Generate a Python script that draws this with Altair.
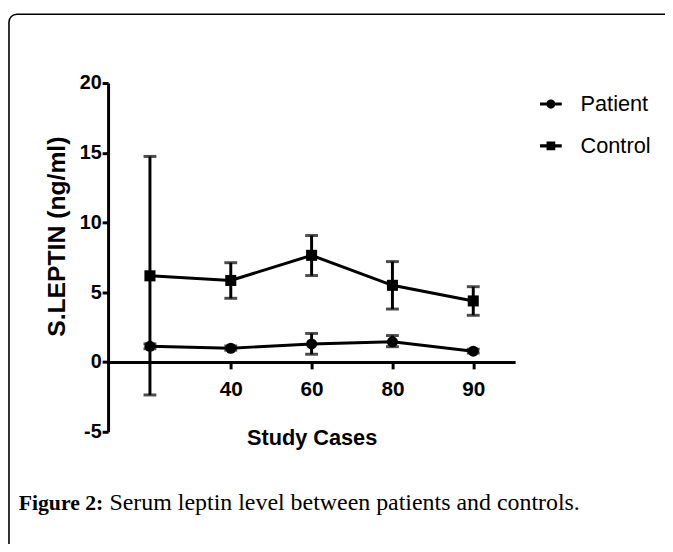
import altair as alt
import pandas as pd

# ---- data ----
x_labels = ["", "40", "60", "80", "90"]
positions = [1, 2, 3, 4, 5]
series_names = ["Patient", "Control"]

patient_mean = [1.13, 0.99, 1.30, 1.45, 0.78]
patient_lo = [0.95, 0.85, 0.56, 1.10, 0.65]
patient_hi = [1.30, 1.15, 2.05, 1.90, 0.92]

control_mean = [6.18, 5.85, 7.65, 5.50, 4.38]
control_lo = [-2.36, 4.57, 6.20, 3.80, 3.35]
control_hi = [14.74, 7.12, 9.07, 7.20, 5.40]

y_ticks = [-5, 0, 5, 10, 15, 20]
caption_bold = "Figure 2:"
caption_rest = "Serum leptin level between patients and controls."

rows = []
for name, m, lo, hi in [("Patient", patient_mean, patient_lo, patient_hi),
                        ("Control", control_mean, control_lo, control_hi)]:
    for p, a, b, c in zip(positions, m, lo, hi):
        rows.append({"series": name, "pos": p, "mean": a, "lo": b, "hi": c})
df = pd.DataFrame(rows)

label_expr = "[" + ",".join("'" + s + "'" for s in x_labels) + "][datum.value - 1]"

FONT = "Liberation Sans"

x_axis = alt.Axis(values=positions[1:], labelExpr=label_expr, offset=-70.7,
                  domainWidth=3, domainColor="black", tickWidth=3, tickColor="black",
                  tickSize=7, labelPadding=10, labelFont=FONT, labelFontWeight="bold",
                  labelFontSize=21, labelColor="black", titleFont=FONT,
                  titleFontWeight="bold", titleFontSize=22, titleColor="black",
                  titleY=83.7, titleBaseline="alphabetic", grid=False)
y_axis = alt.Axis(values=y_ticks, labelExpr="'' + datum.value",
                  domainWidth=3, domainColor="black", tickWidth=3, tickColor="black",
                  tickSize=6, labelPadding=1, labelFont=FONT, labelFontWeight="bold",
                  labelFontSize=20, labelColor="black", titleFont=FONT,
                  titleFontWeight="bold", titleFontSize=25, titleColor="black",
                  titleX=-51.8, titleY=155, titleBaseline="middle", titleAlign="center",
                  grid=False)

xs = alt.Scale(domain=[0.482, 5.518], nice=False, zero=False)
ys = alt.Scale(domain=[-5, 20], nice=False, zero=False)

X = alt.X("pos:Q", scale=xs, axis=x_axis, title="Study Cases")

def Y(field):
    return alt.Y(field, scale=ys, axis=y_axis, title="S.LEPTIN (ng/ml)")

base = alt.Chart(df)

lines = base.mark_line(color="black", strokeWidth=3).encode(
    x=X, y=Y("mean:Q"), detail="series:N")

rules = base.mark_rule(color="black", strokeWidth=3).encode(
    x=X, y=Y("lo:Q"), y2="hi:Q")

caps = base.transform_fold(["lo", "hi"], as_=["k", "v"]).mark_tick(
    color="black", orient="horizontal", size=13, thickness=3).encode(
    x=X, y=Y("v:Q"))

points = base.mark_point(filled=True, opacity=1, color="black", size=125).encode(
    x=X, y=Y("mean:Q"),
    shape=alt.Shape("series:N",
                    scale=alt.Scale(domain=series_names, range=["circle", "square"]),
                    legend=None))

p_path = ("M-1,-0.14H-0.38V0.14H-1Z M0.38,-0.14H1V0.14H0.38Z "
          "M0.42,0A0.42,0.42,0,1,1,-0.42,0A0.42,0.42,0,1,1,0.42,0Z")
c_path = "M-1,-0.14H1V0.14H-1Z M-0.4,-0.4H0.4V0.4H-0.4Z"

legend_layer = base.mark_point(filled=True, opacity=0, color="black").encode(
    x=X, y=Y("mean:Q"),
    shape=alt.Shape("series:N",
                    scale=alt.Scale(domain=series_names, range=[p_path, c_path]),
                    legend=alt.Legend(title=None, orient="none", legendX=436.7,
                                      legendY=9.8, symbolSize=484, symbolOpacity=1,
                                      symbolFillColor="black", symbolStrokeColor="black",
                                      symbolStrokeWidth=0.5, labelFont=FONT,
                                      labelFontSize=22, labelColor="black",
                                      labelOffset=18.5, rowPadding=19.3, padding=0,
                                      labelLimit=0)))

one = alt.Data(values=[{}])
frame = alt.Chart(one).mark_rect(fillOpacity=0, stroke="black", strokeWidth=1.6,
                                 cornerRadius=8).encode(
    x=alt.value(-100.3), y=alt.value(-69.7), x2=alt.value(2000), y2=alt.value(2000))

cap1 = alt.Chart(one).mark_text(align="left", baseline="alphabetic",
                                font="Liberation Serif", fontWeight="bold",
                                fontSize=22, color="black").encode(
    x=alt.value(-90.5), y=alt.value(432), text=alt.value(caption_bold))
cap2 = alt.Chart(one).mark_text(align="left", baseline="alphabetic",
                                font="Liberation Serif", fontSize=24.2,
                                color="black").encode(
    x=alt.value(1.4), y=alt.value(432), text=alt.value(caption_rest))

chart = alt.layer(frame, lines, rules, caps, points, legend_layer, cap1, cap2).resolve_scale(
    shape="independent").properties(
    width=412, height=353,
    autosize=alt.AutoSizeParams(type="none"),
    padding={"left": 101.3, "top": 72.7, "right": 151.7, "bottom": 110},
    background="white",
).configure_view(stroke=None)

chart.save("out.html", embed_options={"renderer": "svg", "actions": False})
